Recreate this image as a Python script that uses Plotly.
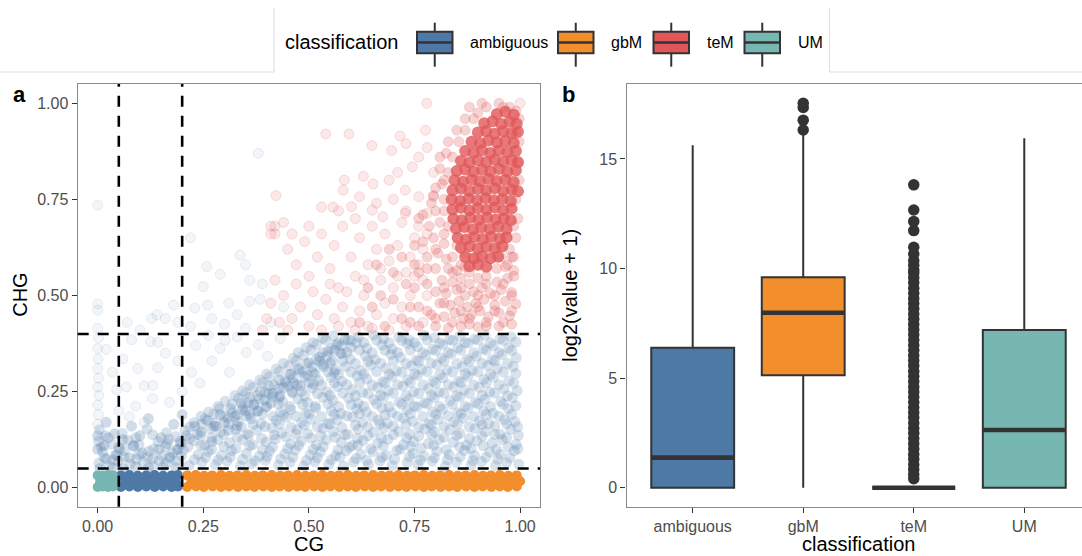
import plotly.graph_objects as go

# ---------------- panel a: CG vs CHG methylation, one point per gene ----------------
# (CG, CHG) pairs per classification
um_band = [(0.0, 0.002), (0.012, 0.003), (0.024, 0.002), (0.036, 0.003),
           (0.006, 0.017), (0.018, 0.016), (0.03, 0.017), (0.04, 0.018),
           (0.0, 0.032), (0.012, 0.031), (0.024, 0.033), (0.036, 0.032)]

amb_band = [(0.055, 0.002), (0.075, 0.003), (0.095, 0.002), (0.115, 0.003), (0.135, 0.002), (0.155, 0.003), (0.175, 0.002), (0.19, 0.003),
            (0.065, 0.017), (0.085, 0.016), (0.105, 0.018), (0.125, 0.017), (0.145, 0.016), (0.165, 0.018), (0.185, 0.017),
            (0.055, 0.032), (0.075, 0.033), (0.095, 0.031), (0.115, 0.032), (0.135, 0.033), (0.155, 0.031), (0.175, 0.032), (0.19, 0.033)]

gbm_band = [(0.212, 0.002), (0.233, 0.003), (0.251, 0.002), (0.272, 0.003), (0.292, 0.002), (0.311, 0.003), (0.332, 0.002), (0.352, 0.003),
            (0.371, 0.002), (0.392, 0.003), (0.412, 0.002), (0.431, 0.003), (0.452, 0.002), (0.472, 0.003), (0.491, 0.002), (0.512, 0.003),
            (0.532, 0.002), (0.551, 0.003), (0.572, 0.002), (0.592, 0.003), (0.611, 0.002), (0.632, 0.003), (0.652, 0.002), (0.671, 0.003),
            (0.692, 0.002), (0.712, 0.003), (0.731, 0.002), (0.752, 0.003), (0.772, 0.002), (0.791, 0.003), (0.812, 0.002), (0.832, 0.003),
            (0.851, 0.002), (0.872, 0.003), (0.892, 0.002), (0.911, 0.003), (0.932, 0.002), (0.952, 0.003), (0.971, 0.002), (0.992, 0.003),
            (0.222, 0.017), (0.242, 0.016), (0.262, 0.018), (0.281, 0.017), (0.302, 0.016), (0.322, 0.018), (0.341, 0.017), (0.362, 0.016),
            (0.382, 0.018), (0.401, 0.017), (0.422, 0.016), (0.442, 0.018), (0.461, 0.017), (0.482, 0.016), (0.502, 0.018), (0.521, 0.017),
            (0.542, 0.016), (0.562, 0.018), (0.581, 0.017), (0.602, 0.016), (0.622, 0.018), (0.641, 0.017), (0.662, 0.016), (0.682, 0.018),
            (0.701, 0.017), (0.722, 0.016), (0.742, 0.018), (0.761, 0.017), (0.782, 0.016), (0.802, 0.018), (0.821, 0.017), (0.842, 0.016),
            (0.862, 0.018), (0.881, 0.017), (0.902, 0.016), (0.922, 0.018), (0.941, 0.017), (0.962, 0.016), (0.982, 0.018), (1.0, 0.017),
            (0.212, 0.032), (0.232, 0.033), (0.252, 0.031), (0.271, 0.032), (0.292, 0.033), (0.312, 0.031), (0.331, 0.032), (0.352, 0.033),
            (0.372, 0.031), (0.391, 0.032), (0.412, 0.033), (0.432, 0.031), (0.451, 0.032), (0.472, 0.033), (0.492, 0.031), (0.511, 0.032),
            (0.532, 0.033), (0.552, 0.031), (0.571, 0.032), (0.592, 0.033), (0.612, 0.031), (0.631, 0.032), (0.652, 0.033), (0.672, 0.031),
            (0.691, 0.032), (0.712, 0.033), (0.732, 0.031), (0.751, 0.032), (0.772, 0.033), (0.792, 0.031), (0.811, 0.032), (0.832, 0.033),
            (0.852, 0.031), (0.871, 0.032), (0.892, 0.033), (0.912, 0.031), (0.931, 0.032), (0.952, 0.033), (0.972, 0.031), (0.992, 0.032)]

amb_cloud = [
    (0.003, 0.064), (0.028, 0.057), (0.049, 0.069), (0.077, 0.061), (0.108, 0.066), (0.131, 0.056), (0.162, 0.063), (0.186, 0.07), (0.216, 0.058),
    (0.247, 0.067), (0.279, 0.06), (0.306, 0.069), (0.338, 0.057), (0.364, 0.063), (0.397, 0.071), (0.428, 0.059), (0.455, 0.066), (0.488, 0.057),
    (0.514, 0.068), (0.547, 0.061), (0.582, 0.056), (0.606, 0.067), (0.641, 0.06), (0.668, 0.07), (0.697, 0.058), (0.733, 0.065), (0.758, 0.06),
    (0.792, 0.069), (0.823, 0.056), (0.849, 0.066), (0.884, 0.059), (0.909, 0.068), (0.942, 0.058), (0.968, 0.065), (0.997, 0.061),
    (0.012, 0.093), (0.041, 0.084), (0.063, 0.097), (0.097, 0.087), (0.121, 0.095), (0.152, 0.083), (0.177, 0.091), (0.203, 0.098), (0.238, 0.086),
    (0.262, 0.094), (0.293, 0.084), (0.317, 0.096), (0.352, 0.089), (0.383, 0.082), (0.407, 0.095), (0.443, 0.088), (0.468, 0.098), (0.503, 0.085),
    (0.527, 0.093), (0.563, 0.083), (0.588, 0.096), (0.623, 0.087), (0.652, 0.094), (0.684, 0.084), (0.708, 0.097), (0.747, 0.089), (0.772, 0.082),
    (0.803, 0.095), (0.832, 0.086), (0.868, 0.097), (0.892, 0.084), (0.928, 0.093), (0.953, 0.087), (0.986, 0.096),
    (0.002, 0.121), (0.034, 0.113), (0.072, 0.123), (0.098, 0.112), (0.143, 0.12), (0.168, 0.126), (0.197, 0.114), (0.228, 0.122), (0.253, 0.111),
    (0.284, 0.125), (0.312, 0.117), (0.343, 0.124), (0.367, 0.112), (0.399, 0.119), (0.421, 0.127), (0.457, 0.114), (0.482, 0.121), (0.518, 0.111),
    (0.541, 0.125), (0.577, 0.118), (0.603, 0.11), (0.628, 0.123), (0.663, 0.116), (0.687, 0.126), (0.724, 0.112), (0.748, 0.12), (0.783, 0.115),
    (0.808, 0.125), (0.842, 0.118), (0.873, 0.111), (0.897, 0.122), (0.934, 0.116), (0.958, 0.125), (0.991, 0.113),
    (0.004, 0.151), (0.058, 0.141), (0.117, 0.153), (0.163, 0.143), (0.207, 0.149), (0.236, 0.139), (0.268, 0.154), (0.291, 0.145), (0.327, 0.152),
    (0.354, 0.14), (0.377, 0.15), (0.413, 0.156), (0.436, 0.143), (0.472, 0.151), (0.497, 0.141), (0.534, 0.154), (0.558, 0.146), (0.592, 0.139),
    (0.617, 0.152), (0.653, 0.144), (0.677, 0.155), (0.713, 0.147), (0.738, 0.14), (0.774, 0.153), (0.797, 0.145), (0.834, 0.151), (0.857, 0.141),
    (0.893, 0.154), (0.917, 0.146), (0.953, 0.139), (0.978, 0.152),
    (0.228, 0.169), (0.254, 0.179), (0.277, 0.168), (0.309, 0.181), (0.332, 0.171), (0.364, 0.18), (0.387, 0.167), (0.423, 0.176), (0.447, 0.183),
    (0.483, 0.17), (0.506, 0.178), (0.544, 0.167), (0.567, 0.177), (0.603, 0.184), (0.627, 0.17), (0.664, 0.176), (0.686, 0.168), (0.724, 0.181),
    (0.746, 0.173), (0.784, 0.167), (0.806, 0.178), (0.843, 0.171), (0.866, 0.181), (0.904, 0.174), (0.926, 0.167), (0.963, 0.177), (0.988, 0.172),
    (0.263, 0.197), (0.288, 0.206), (0.318, 0.195), (0.342, 0.204), (0.378, 0.199), (0.398, 0.209), (0.433, 0.196), (0.457, 0.203), (0.493, 0.194),
    (0.516, 0.207), (0.553, 0.2), (0.576, 0.193), (0.613, 0.205), (0.636, 0.197), (0.673, 0.208), (0.696, 0.195), (0.733, 0.203), (0.757, 0.21),
    (0.793, 0.196), (0.816, 0.204), (0.853, 0.195), (0.877, 0.207), (0.913, 0.2), (0.936, 0.194), (0.972, 0.205),
    (0.302, 0.225), (0.334, 0.233), (0.357, 0.221), (0.383, 0.231), (0.414, 0.237), (0.438, 0.223), (0.474, 0.231), (0.497, 0.221), (0.533, 0.235),
    (0.557, 0.227), (0.594, 0.233), (0.617, 0.22), (0.654, 0.229), (0.677, 0.236), (0.714, 0.223), (0.737, 0.23), (0.774, 0.221), (0.797, 0.234),
    (0.834, 0.226), (0.857, 0.236), (0.894, 0.222), (0.917, 0.23), (0.954, 0.224), (0.982, 0.234),
    (0.343, 0.252), (0.368, 0.261), (0.397, 0.249), (0.428, 0.258), (0.452, 0.265), (0.483, 0.251), (0.508, 0.259), (0.543, 0.249), (0.568, 0.263),
    (0.603, 0.255), (0.627, 0.248), (0.663, 0.261), (0.688, 0.252), (0.723, 0.264), (0.748, 0.25), (0.783, 0.258), (0.808, 0.249), (0.843, 0.262),
    (0.868, 0.254), (0.903, 0.261), (0.928, 0.249), (0.962, 0.257), (0.993, 0.252),
    (0.384, 0.28), (0.407, 0.289), (0.443, 0.278), (0.463, 0.286), (0.497, 0.293), (0.523, 0.279), (0.553, 0.287), (0.578, 0.277), (0.614, 0.291),
    (0.637, 0.283), (0.674, 0.276), (0.697, 0.289), (0.734, 0.281), (0.757, 0.292), (0.794, 0.278), (0.817, 0.286), (0.854, 0.277), (0.877, 0.29),
    (0.914, 0.282), (0.937, 0.288), (0.973, 0.278),
    (0.423, 0.309), (0.452, 0.317), (0.477, 0.306), (0.508, 0.314), (0.532, 0.321), (0.563, 0.307), (0.587, 0.315), (0.623, 0.305), (0.647, 0.319),
    (0.683, 0.311), (0.707, 0.304), (0.743, 0.317), (0.767, 0.308), (0.803, 0.32), (0.827, 0.306), (0.863, 0.314), (0.887, 0.305), (0.923, 0.318),
    (0.947, 0.31), (0.984, 0.315),
    (0.463, 0.337), (0.487, 0.345), (0.518, 0.334), (0.543, 0.342), (0.578, 0.349), (0.598, 0.335), (0.634, 0.343), (0.657, 0.333), (0.694, 0.347),
    (0.717, 0.339), (0.754, 0.332), (0.777, 0.345), (0.814, 0.337), (0.837, 0.348), (0.874, 0.334), (0.897, 0.342), (0.934, 0.333), (0.957, 0.346),
    (0.991, 0.338),
    (0.494, 0.365), (0.518, 0.373), (0.553, 0.362), (0.577, 0.37), (0.613, 0.377), (0.637, 0.363), (0.673, 0.371), (0.697, 0.361), (0.733, 0.375),
    (0.757, 0.367), (0.793, 0.36), (0.817, 0.372), (0.853, 0.364), (0.877, 0.376), (0.913, 0.362), (0.937, 0.37), (0.973, 0.364),
    (0.533, 0.389), (0.558, 0.395), (0.593, 0.385), (0.617, 0.392), (0.653, 0.397), (0.677, 0.387), (0.713, 0.393), (0.737, 0.384), (0.773, 0.396),
    (0.797, 0.39), (0.833, 0.385), (0.857, 0.394), (0.893, 0.387), (0.917, 0.397), (0.953, 0.388), (0.978, 0.393)]

amb_cloud_b = [
    (0.015, 0.078), (0.037, 0.072), (0.062, 0.08), (0.092, 0.074), (0.118, 0.079), (0.146, 0.071), (0.172, 0.077), (0.198, 0.082), (0.229, 0.073),
    (0.256, 0.079), (0.285, 0.072), (0.314, 0.08), (0.343, 0.074), (0.372, 0.07), (0.401, 0.081), (0.433, 0.075), (0.462, 0.079), (0.494, 0.071),
    (0.52, 0.078), (0.553, 0.073), (0.574, 0.08), (0.612, 0.076), (0.637, 0.071), (0.673, 0.079), (0.703, 0.074), (0.738, 0.081), (0.764, 0.072),
    (0.797, 0.078), (0.828, 0.073), (0.858, 0.08), (0.888, 0.071), (0.919, 0.079), (0.947, 0.074), (0.976, 0.078),
    (0.008, 0.106), (0.052, 0.1), (0.084, 0.108), (0.132, 0.101), (0.161, 0.107), (0.188, 0.099), (0.214, 0.106), (0.245, 0.11), (0.27, 0.1),
    (0.299, 0.107), (0.327, 0.102), (0.36, 0.109), (0.39, 0.099), (0.414, 0.106), (0.45, 0.102), (0.476, 0.11), (0.51, 0.1), (0.534, 0.107),
    (0.569, 0.098), (0.596, 0.105), (0.616, 0.111), (0.646, 0.101), (0.676, 0.108), (0.716, 0.1), (0.741, 0.107), (0.766, 0.103), (0.795, 0.11),
    (0.825, 0.099), (0.857, 0.106), (0.884, 0.102), (0.913, 0.109), (0.944, 0.1), (0.972, 0.106), (0.995, 0.101),
    (0.018, 0.135), (0.09, 0.13), (0.13, 0.138), (0.185, 0.133), (0.218, 0.128), (0.244, 0.136), (0.27, 0.13), (0.298, 0.139), (0.33, 0.131),
    (0.357, 0.136), (0.388, 0.128), (0.418, 0.137), (0.446, 0.132), (0.47, 0.139), (0.505, 0.129), (0.528, 0.135), (0.562, 0.131), (0.585, 0.138),
    (0.615, 0.128), (0.64, 0.135), (0.672, 0.13), (0.7, 0.138), (0.731, 0.129), (0.76, 0.134), (0.79, 0.139), (0.82, 0.131), (0.85, 0.136),
    (0.88, 0.128), (0.91, 0.134), (0.94, 0.139), (0.968, 0.13), (0.996, 0.136),
    (0.218, 0.158), (0.246, 0.165), (0.28, 0.16), (0.31, 0.166), (0.34, 0.158), (0.368, 0.164), (0.396, 0.159), (0.43, 0.166), (0.458, 0.157),
    (0.489, 0.163), (0.52, 0.159), (0.55, 0.166), (0.578, 0.157), (0.61, 0.163), (0.64, 0.158), (0.668, 0.166), (0.7, 0.16), (0.73, 0.165),
    (0.76, 0.157), (0.79, 0.164), (0.82, 0.159), (0.852, 0.166), (0.88, 0.158), (0.91, 0.164), (0.94, 0.16), (0.968, 0.166), (0.994, 0.158),
    (0.245, 0.186), (0.275, 0.192), (0.3, 0.185), (0.33, 0.19), (0.352, 0.186), (0.39, 0.192), (0.415, 0.185), (0.44, 0.19), (0.47, 0.186),
    (0.5, 0.192), (0.53, 0.185), (0.56, 0.19), (0.59, 0.187), (0.62, 0.192), (0.65, 0.185), (0.68, 0.19), (0.71, 0.186), (0.74, 0.192),
    (0.77, 0.185), (0.8, 0.19), (0.83, 0.187), (0.86, 0.192), (0.89, 0.185), (0.92, 0.19), (0.95, 0.186), (0.98, 0.191),
    (0.285, 0.212), (0.318, 0.218), (0.345, 0.211), (0.37, 0.217), (0.4, 0.212), (0.428, 0.218), (0.455, 0.211), (0.485, 0.217), (0.515, 0.212),
    (0.545, 0.218), (0.57, 0.211), (0.6, 0.216), (0.63, 0.212), (0.66, 0.218), (0.69, 0.211), (0.72, 0.217), (0.75, 0.212), (0.78, 0.218),
    (0.81, 0.211), (0.84, 0.216), (0.87, 0.212), (0.9, 0.218), (0.93, 0.211), (0.96, 0.217), (0.99, 0.213),
    (0.325, 0.24), (0.35, 0.246), (0.378, 0.239), (0.405, 0.245), (0.432, 0.24), (0.462, 0.246), (0.49, 0.239), (0.52, 0.245), (0.55, 0.24),
    (0.58, 0.246), (0.61, 0.239), (0.64, 0.245), (0.67, 0.24), (0.7, 0.246), (0.73, 0.239), (0.76, 0.245), (0.79, 0.24), (0.82, 0.246),
    (0.85, 0.239), (0.88, 0.245), (0.91, 0.24), (0.94, 0.246), (0.97, 0.239),
    (0.36, 0.268), (0.39, 0.274), (0.418, 0.267), (0.445, 0.273), (0.472, 0.268), (0.5, 0.274), (0.53, 0.267), (0.56, 0.273), (0.59, 0.268),
    (0.62, 0.274), (0.65, 0.267), (0.68, 0.273), (0.71, 0.268), (0.74, 0.274), (0.77, 0.267), (0.8, 0.273), (0.83, 0.268), (0.86, 0.274),
    (0.89, 0.267), (0.92, 0.273), (0.95, 0.268), (0.985, 0.272),
    (0.4, 0.296), (0.43, 0.302), (0.458, 0.295), (0.485, 0.301), (0.515, 0.296), (0.545, 0.302), (0.57, 0.295), (0.6, 0.301), (0.63, 0.296),
    (0.66, 0.302), (0.69, 0.295), (0.72, 0.301), (0.75, 0.296), (0.78, 0.302), (0.81, 0.295), (0.84, 0.301), (0.87, 0.296), (0.9, 0.302),
    (0.93, 0.295), (0.96, 0.301), (0.99, 0.297),
    (0.44, 0.324), (0.47, 0.33), (0.495, 0.323), (0.525, 0.329), (0.55, 0.324), (0.58, 0.33), (0.61, 0.323), (0.64, 0.329), (0.67, 0.324),
    (0.7, 0.33), (0.73, 0.323), (0.76, 0.329), (0.79, 0.324), (0.82, 0.33), (0.85, 0.323), (0.88, 0.329), (0.91, 0.324), (0.94, 0.33), (0.97, 0.323),
    (0.475, 0.352), (0.505, 0.358), (0.532, 0.351), (0.56, 0.357), (0.59, 0.352), (0.62, 0.358), (0.65, 0.351), (0.68, 0.357), (0.71, 0.352),
    (0.74, 0.358), (0.77, 0.351), (0.8, 0.357), (0.83, 0.352), (0.86, 0.358), (0.89, 0.351), (0.92, 0.357), (0.95, 0.352), (0.98, 0.357),
    (0.51, 0.378), (0.54, 0.384), (0.57, 0.377), (0.6, 0.383), (0.63, 0.378), (0.66, 0.384), (0.69, 0.377), (0.72, 0.383), (0.75, 0.378),
    (0.78, 0.384), (0.81, 0.377), (0.84, 0.383), (0.87, 0.378), (0.9, 0.384), (0.93, 0.377), (0.96, 0.383), (0.99, 0.379)]

amb_dense = [
    (0.005, 0.05), (0.02, 0.075), (0.035, 0.052), (0.045, 0.085), (0.06, 0.05), (0.075, 0.078), (0.09, 0.055), (0.105, 0.09), (0.12, 0.052),
    (0.13, 0.075), (0.145, 0.1), (0.155, 0.055), (0.17, 0.08), (0.185, 0.053), (0.19, 0.1), (0.0, 0.1), (0.015, 0.11), (0.05, 0.105),
    (0.085, 0.11), (0.0, 0.135), (0.02, 0.17), (0.04, 0.14), (0.08, 0.16), (0.12, 0.18), (0.15, 0.13), (0.18, 0.165), (0.2, 0.19),
    (0.195, 0.12), (0.06, 0.125), (0.1, 0.135), (0.165, 0.115), (0.025, 0.13),
    (0.21, 0.135), (0.23, 0.16), (0.245, 0.145), (0.26, 0.175), (0.275, 0.16), (0.29, 0.19), (0.3, 0.17), (0.315, 0.205), (0.325, 0.185),
    (0.34, 0.22), (0.35, 0.2), (0.36, 0.235), (0.37, 0.215), (0.385, 0.25), (0.395, 0.228), (0.405, 0.265), (0.415, 0.245), (0.43, 0.28),
    (0.44, 0.26), (0.455, 0.295), (0.465, 0.272), (0.475, 0.31), (0.49, 0.288), (0.5, 0.325), (0.51, 0.3), (0.525, 0.34), (0.535, 0.315),
    (0.545, 0.355), (0.555, 0.33), (0.565, 0.372), (0.575, 0.35), (0.585, 0.385), (0.6, 0.365), (0.31, 0.15), (0.36, 0.19), (0.41, 0.22),
    (0.46, 0.25), (0.51, 0.27), (0.56, 0.3), (0.27, 0.12), (0.33, 0.16), (0.38, 0.2), (0.43, 0.235), (0.48, 0.265)]

amb_sparse = [
    (0.0, 0.165), (0.002, 0.19), (0.0, 0.215), (0.003, 0.24), (0.0, 0.262), (0.002, 0.285), (0.0, 0.31), (0.001, 0.335), (0.0, 0.362),
    (0.002, 0.39), (0.0, 0.415), (0.0, 0.462), (0.0, 0.478), (0.0, 0.735),
    (0.08, 0.385), (0.125, 0.38), (0.142, 0.378), (0.095, 0.31), (0.068, 0.262), (0.11, 0.265), (0.131, 0.266), (0.045, 0.255), (0.06, 0.335),
    (0.16, 0.35), (0.19, 0.33), (0.222, 0.3), (0.242, 0.272), (0.2, 0.25), (0.17, 0.222), (0.232, 0.37), (0.27, 0.33), (0.29, 0.362),
    (0.312, 0.3), (0.33, 0.392), (0.352, 0.352), (0.38, 0.372), (0.402, 0.342), (0.432, 0.388), (0.262, 0.396), (0.302, 0.384), (0.142, 0.312),
    (0.05, 0.2), (0.09, 0.212), (0.13, 0.232), (0.035, 0.3), (0.02, 0.36), (0.11, 0.17), (0.075, 0.185),
    (0.22, 0.65), (0.38, 0.87), (0.337, 0.605), (0.35, 0.58), (0.258, 0.575), (0.29, 0.555), (0.25, 0.523), (0.36, 0.54), (0.39, 0.53),
    (0.18, 0.475), (0.23, 0.467), (0.26, 0.475), (0.31, 0.48), (0.36, 0.485), (0.385, 0.49), (0.128, 0.44), (0.16, 0.44), (0.14, 0.45),
    (0.19, 0.43), (0.22, 0.42), (0.27, 0.44), (0.3, 0.425), (0.33, 0.45), (0.35, 0.415), (0.41, 0.43), (0.07, 0.43), (0.1, 0.41), (0.44, 0.47)]

tem_core = [
    (0.945, 0.972), (0.965, 0.978), (0.985, 0.97),
    (0.915, 0.948), (0.935, 0.953), (0.955, 0.946), (0.975, 0.952), (0.992, 0.947),
    (0.9, 0.924), (0.92, 0.928), (0.94, 0.921), (0.96, 0.927), (0.98, 0.922), (0.995, 0.926),
    (0.885, 0.9), (0.905, 0.896), (0.925, 0.903), (0.945, 0.898), (0.965, 0.902), (0.985, 0.897),
    (0.87, 0.876), (0.89, 0.872), (0.91, 0.878), (0.93, 0.871), (0.95, 0.877), (0.97, 0.873), (0.99, 0.876),
    (0.86, 0.85), (0.88, 0.846), (0.9, 0.852), (0.92, 0.847), (0.94, 0.853), (0.96, 0.848), (0.98, 0.851), (0.995, 0.846),
    (0.85, 0.824), (0.87, 0.828), (0.89, 0.822), (0.91, 0.827), (0.93, 0.823), (0.95, 0.829), (0.97, 0.822), (0.99, 0.826),
    (0.845, 0.8), (0.865, 0.796), (0.885, 0.802), (0.905, 0.797), (0.925, 0.803), (0.945, 0.798), (0.965, 0.801), (0.985, 0.795),
    (0.84, 0.774), (0.86, 0.778), (0.88, 0.772), (0.9, 0.777), (0.92, 0.773), (0.94, 0.779), (0.96, 0.772), (0.98, 0.776), (0.995, 0.771),
    (0.838, 0.75), (0.858, 0.746), (0.878, 0.752), (0.898, 0.747), (0.918, 0.753), (0.938, 0.748), (0.958, 0.751), (0.978, 0.746),
    (0.84, 0.724), (0.86, 0.728), (0.88, 0.722), (0.9, 0.727), (0.92, 0.723), (0.94, 0.729), (0.96, 0.722), (0.98, 0.726),
    (0.842, 0.7), (0.862, 0.696), (0.882, 0.702), (0.902, 0.697), (0.922, 0.703), (0.942, 0.698), (0.962, 0.701), (0.978, 0.696),
    (0.848, 0.674), (0.868, 0.678), (0.888, 0.672), (0.908, 0.677), (0.928, 0.673), (0.948, 0.679), (0.968, 0.673),
    (0.852, 0.65), (0.872, 0.646), (0.892, 0.652), (0.912, 0.647), (0.932, 0.653), (0.952, 0.648), (0.968, 0.651),
    (0.86, 0.624), (0.88, 0.628), (0.9, 0.622), (0.92, 0.627), (0.94, 0.623), (0.958, 0.628),
    (0.87, 0.6), (0.89, 0.596), (0.91, 0.602), (0.93, 0.597), (0.948, 0.601),
    (0.88, 0.576), (0.9, 0.58), (0.92, 0.575)]

tem_halo = [
    (0.8, 0.42), (0.83, 0.415), (0.86, 0.42), (0.88, 0.425), (0.9, 0.418), (0.92, 0.43), (0.95, 0.42), (0.98, 0.425),
    (0.79, 0.45), (0.82, 0.445), (0.845, 0.455), (0.865, 0.44), (0.885, 0.45), (0.905, 0.46), (0.925, 0.445), (0.95, 0.455), (0.975, 0.447),
    (0.81, 0.48), (0.835, 0.475), (0.855, 0.485), (0.875, 0.47), (0.895, 0.48), (0.915, 0.49), (0.94, 0.475), (0.965, 0.485), (0.99, 0.478),
    (0.8, 0.51), (0.825, 0.505), (0.85, 0.515), (0.87, 0.5), (0.89, 0.51), (0.91, 0.52), (0.93, 0.505), (0.955, 0.515), (0.98, 0.508),
    (0.815, 0.54), (0.84, 0.535), (0.86, 0.545), (0.88, 0.53), (0.9, 0.545), (0.92, 0.55), (0.945, 0.535), (0.97, 0.545),
    (0.83, 0.57), (0.85, 0.565), (0.87, 0.575), (0.945, 0.57), (0.965, 0.575), (0.985, 0.565),
    (0.78, 0.6), (0.805, 0.61), (0.825, 0.595), (0.77, 0.64), (0.795, 0.65), (0.82, 0.635), (0.785, 0.68), (0.81, 0.69), (0.8, 0.72),
    (0.82, 0.75), (0.795, 0.76), (0.815, 0.79), (0.83, 0.82), (0.81, 0.83), (0.84, 0.86), (0.825, 0.87), (0.855, 0.9), (0.87, 0.93),
    (0.89, 0.96), (0.9, 0.975), (0.92, 0.99), (0.95, 1.0), (0.975, 0.99), (0.998, 0.96), (0.998, 0.9), (0.998, 0.8), (0.995, 0.7),
    (0.99, 0.65), (0.985, 0.6), (0.975, 0.62), (0.985, 0.55), (0.77, 0.71), (0.76, 0.56), (0.75, 0.52), (0.76, 0.47), (0.74, 0.43),
    (0.62, 0.43), (0.65, 0.47), (0.68, 0.42), (0.7, 0.49), (0.72, 0.44), (0.74, 0.47), (0.76, 0.42), (0.78, 0.46), (0.8, 0.44),
    (0.82, 0.48), (0.84, 0.43), (0.86, 0.46), (0.88, 0.44), (0.9, 0.47), (0.92, 0.42), (0.94, 0.46), (0.96, 0.43), (0.98, 0.46),
    (0.64, 0.52), (0.67, 0.5), (0.7, 0.56), (0.73, 0.53), (0.75, 0.58), (0.78, 0.53), (0.8, 0.57), (0.82, 0.52), (0.84, 0.56),
    (0.86, 0.52), (0.88, 0.56), (0.9, 0.5), (0.92, 0.53), (0.94, 0.5), (0.96, 0.53), (0.98, 0.5), (0.66, 0.58), (0.69, 0.62),
    (0.72, 0.6), (0.75, 0.63), (0.78, 0.57), (0.8, 0.62), (0.82, 0.66), (0.84, 0.6), (0.86, 0.58), (0.76, 0.7), (0.79, 0.74),
    (0.8, 0.78), (0.82, 0.8), (0.81, 0.86), (0.83, 0.9), (0.85, 0.93), (0.87, 0.96), (0.88, 0.99), (0.91, 1.0), (0.96, 0.99),
    (0.99, 0.98), (0.99, 0.92), (0.995, 0.85), (0.99, 0.75), (0.985, 0.68), (0.98, 0.6), (0.97, 0.58), (0.955, 0.6), (0.9, 0.6),
    (0.87, 0.61), (0.85, 0.63), (0.83, 0.68), (0.82, 0.72)]

tem_sparse = [
    (0.779, 1.0), (1.0, 1.0), (0.54, 0.92), (0.595, 0.92), (0.649, 0.89), (0.716, 0.915), (0.73, 0.895), (0.776, 0.93), (0.696, 0.877),
    (0.584, 0.8), (0.629, 0.81), (0.652, 0.79), (0.69, 0.8), (0.422, 0.76), (0.53, 0.73), (0.557, 0.73), (0.44, 0.69), (0.42, 0.68),
    (0.41, 0.68), (0.42, 0.66), (0.41, 0.66), (0.42, 0.54), (0.41, 0.48),
    (0.581, 0.774), (0.601, 0.731), (0.62, 0.757), (0.65, 0.722), (0.675, 0.705), (0.71, 0.82), (0.728, 0.774), (0.745, 0.835),
    (0.76, 0.86), (0.78, 0.885), (0.795, 0.82), (0.728, 0.714), (0.76, 0.757), (0.78, 0.714), (0.795, 0.757),
    (0.45, 0.62), (0.47, 0.58), (0.49, 0.64), (0.5, 0.55), (0.52, 0.6), (0.53, 0.66), (0.55, 0.57), (0.56, 0.63), (0.57, 0.52),
    (0.58, 0.68), (0.6, 0.6), (0.61, 0.55), (0.62, 0.65), (0.63, 0.5), (0.64, 0.58), (0.65, 0.68), (0.66, 0.62), (0.67, 0.54),
    (0.68, 0.66), (0.69, 0.59), (0.7, 0.52), (0.71, 0.63), (0.72, 0.69), (0.73, 0.56), (0.74, 0.6), (0.75, 0.65), (0.76, 0.58),
    (0.74, 0.5), (0.72, 0.47), (0.7, 0.44), (0.68, 0.48), (0.66, 0.45), (0.64, 0.42), (0.62, 0.46), (0.6, 0.43), (0.58, 0.47),
    (0.56, 0.44), (0.54, 0.49), (0.52, 0.45), (0.5, 0.42), (0.48, 0.47), (0.46, 0.44), (0.44, 0.5), (0.43, 0.43), (0.47, 0.53),
    (0.51, 0.51), (0.55, 0.53), (0.59, 0.51), (0.63, 0.54), (0.67, 0.57), (0.71, 0.55), (0.75, 0.55), (0.77, 0.62), (0.78, 0.66),
    (0.76, 0.68), (0.73, 0.72), (0.7, 0.75), (0.66, 0.74), (0.61, 0.7), (0.57, 0.72), (0.5, 0.68), (0.46, 0.66), (0.39, 0.41),
    (0.4, 0.44), (0.45, 0.41), (0.53, 0.41), (0.57, 0.42), (0.61, 0.41), (0.65, 0.415), (0.69, 0.41), (0.73, 0.42), (0.77, 0.43),
    (0.78, 0.5), (0.77, 0.54)]

cg_cutoffs = [0.05, 0.2]
chg_cutoffs = [0.05, 0.4]
ab_ticks = [0.0, 0.25, 0.5, 0.75, 1.0]
ab_ticktext = ["0.00", "0.25", "0.50", "0.75", "1.00"]

# ---------------- panel b: log2(value + 1) summary per classification ----------------
classes = ["ambiguous", "gbM", "teM", "UM"]
box_q1 = [0.0, 5.13, 0.0, 0.0]
box_median = [1.37, 7.98, 0.0, 2.63]
box_q3 = [6.39, 9.6, 0.0, 7.19]
box_lower = [0.0, 0.0, 0.0, 0.0]
box_upper = [15.63, 16.2, 0.0, 15.94]
gbm_outliers = [16.32, 16.77, 17.35, 17.54]
tem_outliers = [0.41, 0.6, 0.83, 1.05, 1.3, 1.52, 1.77, 2.0, 2.24, 2.49, 2.71, 2.95, 3.2, 3.43, 3.66, 3.9,
                4.14, 4.37, 4.6, 4.85, 5.08, 5.31, 5.56, 5.8, 6.03, 6.27, 6.5, 6.74, 6.98, 7.21, 7.45, 7.69,
                7.92, 8.16, 8.4, 8.63, 8.87, 9.1, 9.35, 9.58, 9.8, 9.93, 10.15, 10.36, 10.66, 10.97,
                11.73, 12.15, 12.67, 13.82]
b_ticks = [0, 5, 10, 15]

palette = {"ambiguous": (78, 121, 167), "gbM": (242, 142, 43), "teM": (225, 87, 89), "UM": (118, 183, 178)}


def rgba(rgb, a):
    return "rgba(%d,%d,%d,%.3f)" % (rgb[0], rgb[1], rgb[2], a)


def hexcol(rgb):
    return "#%02X%02X%02X" % rgb


W, H = 1082, 556
FONT = "Liberation Sans, Arial, Helvetica, sans-serif"
INK = "#333333"


def px(x):
    return x / W


def py(y):
    return 1 - y / H


fig = go.Figure()


def add_points(points, cls, fill_a, ring_a, size=10, ring_w=1.0):
    xs, ys = zip(*points)
    fig.add_trace(go.Scatter(
        x=list(xs), y=list(ys), mode="markers", xaxis="x", yaxis="y",
        marker=dict(size=size, color=rgba(palette[cls], fill_a),
                    line=dict(color=rgba(palette[cls], ring_a), width=ring_w)),
        showlegend=False, hoverinfo="skip"))


add_points(amb_sparse, "ambiguous", 0.07, 0.15, ring_w=0.8)
add_points(amb_cloud, "ambiguous", 0.22, 0.0, size=11, ring_w=0)
add_points(amb_cloud_b, "ambiguous", 0.22, 0.0, size=11, ring_w=0)
add_points(amb_dense, "ambiguous", 0.26, 0.0, size=11, ring_w=0)
add_points(amb_band, "ambiguous", 1.0, 0.0, ring_w=0)
add_points(um_band, "UM", 1.0, 0.0, ring_w=0)
add_points(gbm_band, "gbM", 1.0, 0.0, ring_w=0)
add_points(tem_sparse, "teM", 0.13, 0.24, ring_w=0.8)
add_points(tem_halo, "teM", 0.26, 0.3, ring_w=0.6)
add_points(tem_core, "teM", 0.8, 0.0, size=12, ring_w=0)

# threshold guides
shapes = []
for c in cg_cutoffs:
    shapes.append(dict(type="line", xref="x", yref="y domain", x0=c, x1=c, y0=0, y1=1,
                       line=dict(color="black", width=2.6, dash="11px,9px"), layer="above"))
for c in chg_cutoffs:
    shapes.append(dict(type="line", xref="x domain", yref="y", x0=0, x1=1, y0=c, y1=c,
                       line=dict(color="black", width=2.6, dash="11px,9px"), layer="above"))

# boxplots
half = 0.375
for i, cls in enumerate(classes):
    pos = i + 1
    fig.add_trace(go.Box(
        x=[pos], q1=[box_q1[i]], median=[box_median[i]], q3=[box_q3[i]],
        lowerfence=[box_lower[i]], upperfence=[box_upper[i]],
        width=0.75, whiskerwidth=0, boxpoints=False,
        fillcolor=hexcol(palette[cls]), line=dict(color=INK, width=2),
        xaxis="x2", yaxis="y2", showlegend=False, hoverinfo="skip"))
    fig.add_trace(go.Scatter(
        x=[pos - half, pos + half], y=[box_median[i], box_median[i]], mode="lines",
        line=dict(color=INK, width=4.6), xaxis="x2", yaxis="y2",
        showlegend=False, hoverinfo="skip"))

fig.add_trace(go.Scatter(x=[2] * len(gbm_outliers), y=gbm_outliers, mode="markers",
                         marker=dict(size=11.5, color=INK), xaxis="x2", yaxis="y2",
                         showlegend=False, hoverinfo="skip"))
fig.add_trace(go.Scatter(x=[3] * len(tem_outliers), y=tem_outliers, mode="markers",
                         marker=dict(size=11.5, color=INK), xaxis="x2", yaxis="y2",
                         showlegend=False, hoverinfo="skip"))

# legend drawn as boxplot keys
key_left = [417, 558, 653.5, 744.5]
label_left = [467.7, 608.9, 704.5, 796.2]
key_w = 35.5
for i, cls in enumerate(classes):
    x0 = key_left[i]
    xc = x0 + key_w / 2
    shapes.append(dict(type="line", xref="paper", yref="paper", x0=px(xc), x1=px(xc), y0=py(22.7), y1=py(66.7),
                       line=dict(color=INK, width=2)))
    shapes.append(dict(type="rect", xref="paper", yref="paper", x0=px(x0), x1=px(x0 + key_w), y0=py(53.3), y1=py(31.7),
                       fillcolor=hexcol(palette[cls]), line=dict(color=INK, width=2)))
    shapes.append(dict(type="line", xref="paper", yref="paper", x0=px(x0), x1=px(x0 + key_w), y0=py(42.5), y1=py(42.5),
                       line=dict(color=INK, width=2.4)))

# faint frame lines around legend area
frame = "#dcdcdc"
for xv in (274, 829.5):
    shapes.append(dict(type="line", xref="paper", yref="paper", x0=px(xv), x1=px(xv), y0=py(8), y1=py(72),
                       line=dict(color=frame, width=1)))
shapes.append(dict(type="line", xref="paper", yref="paper", x0=0, x1=px(274), y0=py(72), y1=py(72),
                   line=dict(color=frame, width=1)))
shapes.append(dict(type="line", xref="paper", yref="paper", x0=px(829.5), x1=1, y0=py(72), y1=py(72),
                   line=dict(color=frame, width=1)))

annotations = [
    dict(text="classification", x=px(283.3), y=py(42), xanchor="left", yanchor="middle",
         font=dict(size=20, color="black", family=FONT)),
]
for i, cls in enumerate(classes):
    annotations.append(dict(text=cls, x=px(label_left[i]), y=py(42.5), xanchor="left", yanchor="middle",
                            font=dict(size=16, color="black", family=FONT)))
annotations += [
    dict(text="<b>a</b>", x=px(10.5), y=py(94), xanchor="left", yanchor="middle",
         font=dict(size=22, color="black", family=FONT)),
    dict(text="<b>b</b>", x=px(559.5), y=py(94), xanchor="left", yanchor="middle",
         font=dict(size=22, color="black", family=FONT)),
    dict(text="CG", x=px(308.9), y=py(544), xanchor="center", yanchor="middle",
         font=dict(size=20, color="black", family=FONT)),
    dict(text="classification", x=px(858.3), y=py(544), xanchor="center", yanchor="middle",
         font=dict(size=20, color="black", family=FONT)),
    dict(text="CHG", x=px(20.5), y=py(295.3), xanchor="center", yanchor="middle", textangle=-90,
         font=dict(size=20, color="black", family=FONT)),
    dict(text="log2(value + 1)", x=px(570.5), y=py(295.3), xanchor="center", yanchor="middle", textangle=-90,
         font=dict(size=20, color="black", family=FONT)),
]
for a in annotations:
    a.update(xref="paper", yref="paper", showarrow=False)

axis_common = dict(showgrid=False, zeroline=False, ticks="outside", ticklen=5, tickwidth=1.4,
                   tickcolor=INK, showline=True, linecolor="#8a8a8a", linewidth=1.3,
                   tickfont=dict(size=16, color="#4D4D4D", family=FONT), automargin=False)

y_dom = [1 - 506.7 / H, 1 - 84 / H]
fig.update_layout(
    width=W, height=H, margin=dict(l=0, r=0, t=0, b=0),
    paper_bgcolor="white", plot_bgcolor="white", showlegend=False,
    xaxis=dict(domain=[77.7 / W, 540 / W], range=[-0.0473, 1.0471], tickvals=ab_ticks, ticktext=ab_ticktext,
               anchor="y", mirror=True, **axis_common),
    yaxis=dict(domain=y_dom, range=[-0.0494, 1.0502], tickvals=ab_ticks, ticktext=ab_ticktext,
               anchor="x", mirror=True, **axis_common),
    xaxis2=dict(domain=[626.5 / W, 1.0], range=[0.4011, 4.5222], tickvals=[1, 2, 3, 4], ticktext=classes,
                anchor="y2", mirror=True, **axis_common),
    yaxis2=dict(domain=y_dom, range=[-0.867, 18.42], tickvals=b_ticks, ticktext=[str(t) for t in b_ticks],
                anchor="x2", mirror=False, **axis_common),
    shapes=shapes, annotations=annotations,
)

fig.write_html("out.html")
